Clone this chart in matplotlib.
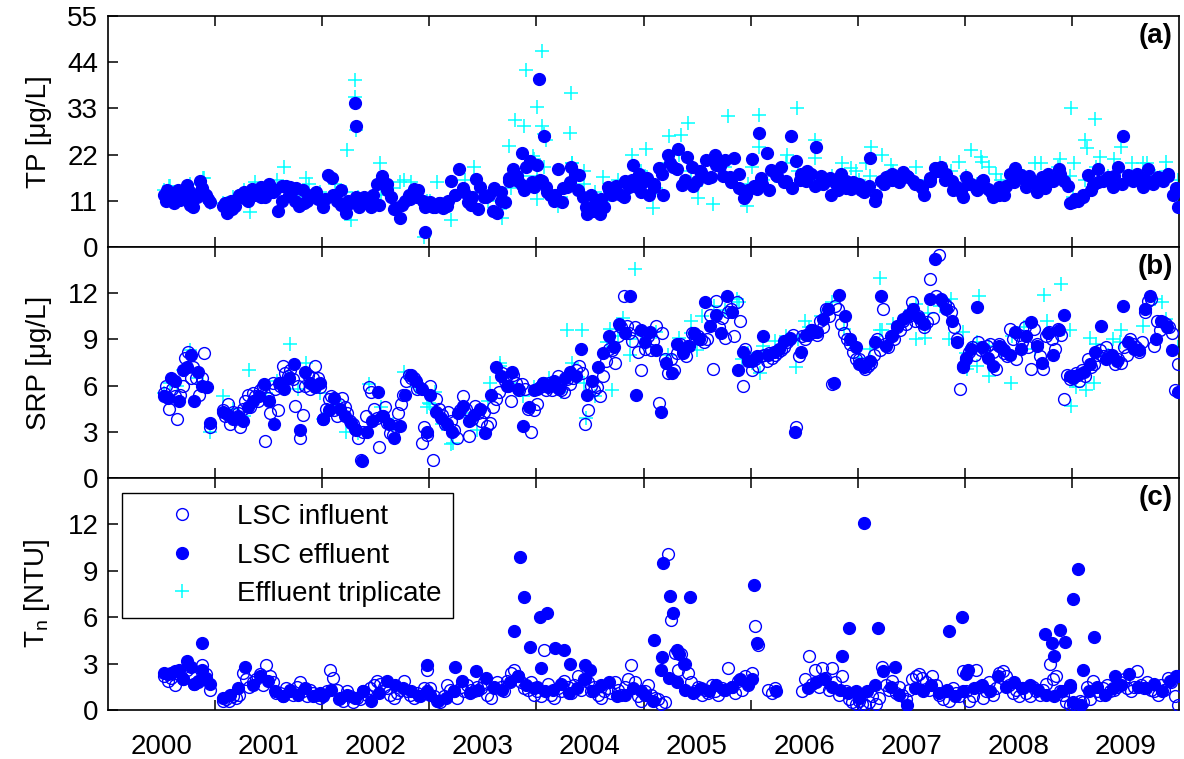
import numpy as np
import matplotlib
matplotlib.use('Agg')
import matplotlib.pyplot as plt
from matplotlib.lines import Line2D

plt.rcParams['font.family'] = ['Liberation Sans', 'DejaVu Sans']
plt.rcParams['mathtext.default'] = 'regular'

BLUE = '#0000FF'
CYAN = '#00FFFF'

YEARS = list(range(2000, 2010))
YEAR_SPANS = [(2000.52, 2000.95), (2001.07, 2001.98), (2002.01, 2002.98), (2003.01, 2003.98),
              (2004.01, 2004.98), (2005.01, 2005.98), (2006.01, 2006.98), (2007.01, 2007.98),
              (2008.01, 2008.98), (2009.01, 2009.99)]

# ---------------- (a) TP [ug/L] ----------------
TP_EFF = [
    [12.4, 13.6, 12.8, 10.4, 11.5, 11.2, 12.6, 14.8, 13.0, 9.6, 11.9, 15.6, 13.2, 12.4, 10.8],
    [9.8, 8.2, 11.0, 9.8, 12.0, 13.2, 11.0, 13.9, 12.5, 14.3, 11.9, 15.0, 13.0, 8.6, 14.6, 14.6,
     14.3, 11.0, 9.8, 13.6, 11.0, 12.5, 13.2, 11.5],
    [9.6, 17.2, 16.4, 11.0, 13.6, 8.2, 10.5, 11.0, 9.6, 11.9, 11.0, 12.5, 15.0, 17.0, 15.0, 11.9,
     9.2, 6.8, 11.0, 12.5, 13.9, 13.6, 11.0, 10.4],
    [10.6, 9.6, 10.4, 9.2, 9.8, 15.6, 12.4, 18.5, 13.2, 10.6, 11.9, 16.2, 14.3, 11.9, 12.5, 8.6,
     8.2, 11.0, 10.6, 15.8, 18.5, 15.6, 14.8, 19.0, 20.5, 14.3],
    [19.6, 15.6, 14.3, 12.5, 11.0, 18.5, 10.6, 14.3, 19.0, 17.5, 17.2, 11.9, 7.8, 12.5, 11.0, 7.8,
     9.6, 14.3, 12.5, 13.2, 12.5, 15.8, 14.3, 19.6, 14.3, 13.2],
    [15.6, 12.5, 14.3, 18.8, 12.4, 21.9, 19.0, 23.4, 14.8, 21.5, 19.0, 15.6, 17.9, 20.6, 16.6, 21.9,
     19.2, 20.8, 16.6, 21.1, 17.4, 11.6, 13.6],
    [21.0, 13.9, 15.0, 22.3, 18.3, 17.2, 19.0, 15.8, 26.4, 20.5, 17.5, 15.6, 17.5, 23.8, 16.8, 15.6,
     12.5, 15.0, 17.5, 15.6, 13.9, 14.6],
    [15.0, 13.2, 21.1, 11.0, 15.6, 16.6, 17.5, 16.6, 17.9, 16.6, 15.6, 14.8, 12.5, 15.6, 18.8, 19.0,
     17.5, 15.6, 14.3, 11.9],
    [16.6, 15.0, 13.6, 15.6, 13.9, 11.9, 14.3, 12.5, 17.5, 18.8, 17.2, 14.3, 15.6, 13.2, 16.6, 17.5,
     15.6, 18.5, 15.6, 10.4],
    [10.6, 11.0, 11.9, 17.2, 14.8, 18.5, 15.6, 16.6, 14.3, 19.0, 26.4, 17.2, 15.6, 16.6, 14.3, 18.5,
     15.8, 16.6, 15.6, 17.5, 12.5, 9.6],
]
# second set of effluent samples (same band, interleaved dates)
TP_EFF_B = [
    [11.0, 12.0, 13.5, 11.5, 10.0, 12.5, 14.0, 11.5],
    [10.5, 9.0, 12.5, 11.5, 13.0, 12.0, 14.5, 13.5, 11.0, 12.5, 14.0, 10.5, 12.0, 11.5],
    [11.5, 12.5, 10.0, 11.0, 12.0, 10.5, 9.5, 10.0, 13.5, 9.0, 10.0, 11.5, 12.0, 9.5],
    [9.5, 10.5, 11.0, 12.5, 14.0, 10.0, 9.0, 12.0, 14.0, 13.0, 16.5, 17.0, 13.5, 15.5],
    [16.0, 13.0, 12.5, 14.0, 15.5, 13.5, 9.5, 8.5, 11.5, 13.5, 14.5, 12.0, 16.0, 17.5],
    [16.5, 15.0, 17.5, 20.0, 18.5, 16.0, 14.5, 18.0, 16.5, 19.5, 17.0, 15.5, 14.0, 12.5],
    [14.5, 16.5, 13.5, 17.0, 15.5, 14.0, 16.0, 18.0, 14.5, 15.0, 16.5, 13.5, 14.0, 15.5],
    [13.5, 14.5, 12.5, 15.0, 16.0, 15.5, 17.0, 15.0, 14.0, 16.5, 18.0, 16.0, 13.5, 13.0],
    [15.0, 14.0, 16.0, 13.0, 12.5, 14.5, 15.5, 16.5, 17.0, 15.0, 14.0, 16.0, 17.5, 14.5],
    [11.5, 12.5, 13.5, 15.5, 16.0, 17.0, 15.0, 16.5, 17.5, 16.0, 15.0, 16.5, 17.0, 14.0],
]
TP_EFF_EXTRA_T = [2002.31, 2002.32, 2002.96, 2003.87, 2004.02, 2004.07, 2006.08]
TP_EFF_EXTRA_V = [34.2, 28.9, 3.6, 22.3, 40.0, 26.4, 27.1]

TP_TRIP = [
    [13.5, 14.5, 11.0, 12.0, 15.0, 13.0, 16.5, 10.5],
    [10.5, 12.0, 13.5, 15.5, 12.5, 16.0, 14.0, 12.0, 15.0, 13.0],
    [11.0, 15.0, 13.0, 12.0, 10.0, 12.5, 14.0, 16.0, 13.0, 11.0],
    [11.0, 10.0, 12.0, 16.0, 13.0, 11.0, 9.0, 14.0, 17.0, 21.0],
    [17.0, 13.0, 12.0, 20.0, 15.0, 13.0, 11.0, 16.0, 14.0, 18.0],
    [17.0, 14.0, 20.0, 22.0, 18.0, 16.0, 21.0, 19.0, 17.0, 15.0],
    [19.0, 16.0, 17.0, 20.0, 18.0, 16.0, 15.0, 17.0, 16.0, 18.0],
    [16.0, 17.0, 15.0, 18.0, 17.0, 19.0, 16.0, 20.0, 18.0, 15.0],
    [17.0, 15.0, 19.0, 16.0, 18.0, 17.0, 20.0, 15.0, 19.0, 17.0],
    [12.0, 16.0, 19.0, 17.0, 18.0, 16.0, 20.0, 17.0, 18.0, 16.0],
]
TP_TRIP_EXTRA_T = [2000.57, 2000.90, 2001.33, 2001.64, 2001.85, 2002.23, 2002.27, 2002.31, 2002.31,
                   2002.32, 2002.54, 2002.73, 2002.83, 2002.95, 2003.07, 2003.20, 2003.42, 2003.68,
                   2003.74, 2003.80, 2003.88, 2003.90, 2004.01, 2004.05, 2004.05, 2004.07, 2004.09,
                   2004.07, 2004.01, 2003.97, 2004.20, 2004.32, 2004.31, 2004.33, 2004.44, 2004.62,
                   2004.89, 2005.02, 2005.09, 2005.24, 2005.35, 2005.42, 2005.51, 2005.65, 2005.79,
                   2005.97, 2006.08, 2006.08, 2006.34, 2006.43, 2006.60, 2006.60, 2006.85, 2006.94,
                   2007.12, 2007.08, 2007.23, 2007.31, 2007.95, 2008.06, 2008.15, 2008.16, 2008.29,
                   2008.71, 2008.89, 2008.99, 2009.02, 2009.12, 2009.14, 2009.22, 2009.26, 2009.39,
                   2009.46, 2009.56, 2009.70, 2009.88, 2009.98]
TP_TRIP_EXTRA_V = [14.5, 16.5, 8.4, 19.1, 16.4, 23.1, 6.4, 39.8, 35.8,
                   27.9, 20.0, 15.5, 15.5, 2.5, 15.5, 6.4, 19.1, 7.0,
                   24.1, 30.2, 28.8, 42.1, 33.3, 46.7, 28.8, 27.0, 25.5,
                   19.0, 11.5, 21.7, 9.8, 36.7, 27.1, 20.0, 18.0, 16.7,
                   21.9, 23.3, 9.2, 26.4, 26.7, 29.6, 11.6, 10.2, 31.3,
                   9.8, 31.4, 23.8, 21.9, 33.2, 25.4, 21.1, 19.9, 18.7,
                   23.8, 20.0, 22.0, 19.5, 20.3, 23.1, 21.5, 20.2, 17.5,
                   20.0, 21.0, 33.2, 20.0, 25.4, 23.5, 30.5, 21.5, 21.0,
                   23.8, 20.0, 20.0, 20.3, 11.4]

# ---------------- (b) SRP [ug/L] ----------------
SRP_INF = [
    [5.5, 6.0, 4.5, 5.8, 5.3, 3.8, 5.4, 6.0, 7.8, 8.2, 6.5, 7.2, 6.5, 5.4, 6.5, 8.1, 5.9, 3.3],
    [4.4, 4.0, 4.8, 3.5, 4.3, 3.8, 4.2, 3.3, 4.5, 5.0, 5.4, 4.6, 5.5, 5.3, 5.0, 5.7, 6.0, 2.4, 5.2,
     4.2, 6.2, 5.8, 4.4, 6.0, 7.3, 6.8, 6.6, 7.0, 6.4, 4.7, 6.0, 2.6, 4.1, 6.0, 6.7, 5.8, 6.5, 7.3,
     6.5, 5.9],
    [3.8, 4.5, 5.1, 5.3, 4.4, 4.0, 4.8, 5.2, 4.6, 4.2, 3.7, 3.5, 3.2, 2.6, 1.2, 3.0, 4.0, 5.9, 5.6,
     4.5, 3.9, 2.0, 4.0, 4.6, 3.6, 2.9, 2.8, 3.4, 4.2, 4.8, 5.4, 6.3, 6.7, 6.5, 6.5, 5.8, 5.9, 2.3,
     3.3, 2.8],
    [6.0, 1.2, 5.1, 4.5, 4.1, 3.5, 4.3, 3.7, 3.1, 2.6, 4.4, 5.3, 4.5, 2.7, 3.8, 4.7, 4.2, 3.7, 4.3,
     3.4, 3.6, 4.6, 5.1, 5.6, 6.8, 6.3, 6.0, 5.0, 6.7, 6.2, 5.7, 6.1, 5.8, 4.5, 3.0, 4.4],
    [4.8, 5.9, 6.2, 5.7, 6.2, 5.7, 6.0, 6.6, 5.7, 5.6, 6.4, 6.1, 6.5, 7.0, 7.3, 6.8, 3.5, 4.4, 6.0,
     5.7, 5.9, 5.3, 6.6, 7.6, 8.4, 8.3, 7.5, 9.2, 9.8, 11.8, 9.9, 9.4, 8.9, 9.8, 8.2, 7.0],
    [8.4, 9.2, 8.3, 8.9, 9.9, 4.9, 9.4, 7.7, 6.8, 7.7, 7.0, 8.1, 8.7, 8.3, 7.9, 8.6, 9.4, 9.1, 9.2,
     9.0, 8.8, 9.0, 10.6, 7.1, 11.5, 9.8, 10.4, 9.1, 10.8, 11.0, 9.2, 11.4, 10.2, 6.0, 8.4, 7.7],
    [7.0, 7.7, 7.3, 7.9, 8.0, 7.6, 8.1, 7.8, 8.0, 8.2, 8.3, 8.5, 8.8, 9.0, 9.3, 3.3, 7.9, 9.2, 9.0,
     9.3, 9.6, 9.5, 9.3, 10.2, 9.8, 11.0, 10.5, 6.1, 11.2, 11.0, 10.0, 9.4, 9.0, 8.7, 8.2, 7.7],
    [7.7, 7.4, 7.1, 7.3, 7.5, 8.0, 9.0, 8.3, 11.0, 8.7, 8.5, 9.2, 9.0, 9.8, 9.6, 10.2, 10.0, 10.5,
     11.4, 10.2, 10.5, 10.1, 9.8, 10.1, 12.9, 10.4, 11.8, 14.5, 11.5, 11.3, 11.1, 10.8, 9.8, 9.0,
     5.8, 7.2],
    [7.7, 8.2, 8.5, 8.0, 8.8, 8.3, 8.4, 8.6, 8.7, 8.2, 7.1, 8.7, 8.5, 8.1, 7.9, 9.7, 9.0, 7.7, 9.3,
     8.8, 9.8, 8.5, 7.1, 9.7, 8.7, 7.9, 7.1, 9.2, 9.5, 9.0, 8.4, 9.7, 9.3, 5.1, 6.7, 6.4],
    [6.6, 6.8, 6.3, 7.0, 6.6, 7.7, 7.2, 7.4, 8.0, 8.3, 7.9, 8.5, 8.0, 7.9, 7.4, 7.7, 7.5, 8.5, 8.0,
     9.0, 8.7, 8.5, 8.2, 8.8, 10.8, 11.5, 11.6, 8.6, 10.2, 9.6, 10.1, 10.0, 9.8, 9.4, 5.7, 7.4],
]
SRP_EFF = [
    [5.3, 5.2, 6.5, 6.3, 5.0, 7.0, 7.2, 8.0, 5.0, 6.9, 6.0, 5.9, 3.6],
    [4.3, 4.1, 3.8, 4.0, 3.7, 4.6, 5.0, 5.3, 6.1, 5.0, 3.5, 6.2, 5.8, 6.5, 7.4, 3.1, 6.9, 6.2, 5.9, 6.2],
    [3.8, 4.4, 5.2, 4.5, 4.0, 3.6, 3.1, 1.1, 3.0, 3.7, 5.6, 4.0, 3.5, 2.6, 3.4, 5.4, 6.7, 6.3, 5.8, 3.0],
    [5.4, 4.3, 3.9, 3.5, 3.0, 4.2, 4.7, 3.7, 4.1, 4.5, 2.9, 5.4, 7.2, 6.6, 6.0, 6.9, 5.8, 3.4, 4.6, 5.7],
    [5.8, 6.2, 5.9, 6.3, 5.8, 6.5, 6.9, 6.6, 8.4, 5.4, 6.3, 7.2, 8.1, 9.2, 8.5, 10.0, 9.4, 11.8, 5.4, 9.6],
    [8.8, 9.5, 8.3, 4.3, 7.5, 6.8, 8.7, 8.1, 8.6, 9.4, 9.0, 11.4, 9.9, 10.6, 9.4, 11.8, 10.8, 7.0, 8.2, 7.6],
    [7.6, 7.9, 9.2, 8.0, 8.2, 8.4, 8.9, 9.1, 3.0, 8.2, 9.3, 9.6, 9.5, 10.3, 11.0, 6.2, 11.9, 10.5, 9.0, 8.5],
    [7.4, 7.2, 7.6, 8.8, 11.8, 8.6, 9.2, 9.9, 10.3, 10.6, 11.0, 10.4, 10.0, 11.6, 14.2, 11.6, 11.0, 10.2, 8.8, 7.3],
    [7.8, 8.4, 11.1, 8.5, 7.8, 7.3, 8.6, 8.3, 8.0, 9.5, 8.4, 9.2, 10.1, 8.6, 7.5, 9.4, 8.0, 9.6, 10.6, 6.6],
    [6.5, 6.7, 6.9, 7.4, 8.2, 9.9, 7.7, 8.0, 7.6, 11.2, 8.8, 8.4, 8.3, 11.0, 11.8, 9.0, 10.2, 9.8, 8.3, 5.6],
]
SRP_TRIP = [
    [5.5, 6.2, 6.0, 7.0, 8.3, 6.5, 6.0, 3.0],
    [5.3, 4.5, 4.0, 5.0, 5.5, 6.3, 6.5, 5.8, 6.2, 5.5],
    [3.8, 5.0, 3.0, 2.9, 6.1, 4.6, 3.5, 6.9, 5.9, 4.6],
    [4.8, 3.5, 2.3, 4.2, 3.1, 5.0, 7.3, 6.2, 5.3, 5.9],
    [5.8, 6.5, 5.6, 7.5, 6.2, 5.3, 8.8, 9.2, 8.0, 9.3],
    [8.6, 9.5, 8.0, 9.1, 9.4, 10.5, 11.2, 10.9, 11.6, 8.1],
    [7.5, 8.6, 8.9, 9.2, 9.0, 9.8, 10.5, 11.4, 9.7, 8.5],
    [7.8, 8.4, 9.6, 10.0, 10.5, 11.3, 10.7, 11.2, 11.6, 9.5],
    [8.1, 8.8, 8.6, 8.3, 9.2, 9.8, 8.4, 10.2, 9.3, 9.6],
    [6.3, 7.0, 8.7, 8.0, 8.8, 8.6, 9.9, 11.6, 10.3, 8.5],
]
SRP_TRIP_EXTRA_T = [2001.32, 2001.70, 2001.85, 2003.00, 2003.05, 2003.20, 2003.57, 2003.66, 2004.29,
                    2004.43, 2004.46, 2004.69, 2004.71, 2004.81, 2004.87, 2004.92, 2005.44, 2005.50,
                    2005.89, 2005.92, 2006.09, 2006.42, 2006.51, 2007.21, 2007.21, 2007.54, 2007.63,
                    2007.85, 2008.02, 2008.11, 2008.13, 2008.23, 2008.43, 2008.74, 2008.90, 2008.99,
                    2009.04, 2009.13, 2009.17, 2009.21, 2009.38, 2009.46, 2009.84]
SRP_TRIP_EXTRA_V = [7.0, 8.7, 7.5, 4.9, 5.6, 2.2, 6.2, 7.5, 9.6,
                    9.6, 3.9, 9.7, 5.7, 10.4, 9.0, 13.6, 10.2, 8.3,
                    11.4, 7.7, 6.8, 7.2, 10.2, 13.0, 9.6, 9.0, 9.1,
                    9.0, 7.1, 7.3, 11.8, 6.6, 6.2, 11.9, 12.6, 4.7,
                    5.9, 5.7, 9.1, 6.2, 9.0, 9.6, 11.4]

# ---------------- (c) Tn [NTU] ----------------
TN_INF = [
    [2.2, 1.9, 2.1, 1.6, 2.3, 2.0, 2.6, 2.2, 1.7, 1.8, 2.9, 2.3, 1.3],
    [0.6, 0.7, 0.6, 0.9, 0.8, 1.0, 2.4, 2.0, 1.5, 1.8, 2.0, 2.3, 1.6, 2.9, 2.2, 1.8, 1.1, 1.1, 0.9,
     1.4, 1.2, 1.0, 1.5, 1.8, 1.2, 0.9, 1.3, 1.1, 1.0, 0.8],
    [0.9, 1.2, 2.6, 2.1, 1.3, 0.8, 0.6, 1.2, 0.9, 0.5, 0.8, 0.7, 1.2, 1.0, 1.4, 1.6, 1.9, 1.7, 1.5,
     1.4, 1.0, 0.8, 1.1, 1.3, 1.9, 1.2, 1.0, 0.8, 1.1, 0.9, 1.4, 2.6],
    [1.4, 0.9, 0.6, 0.5, 0.9, 1.6, 1.3, 1.2, 0.8, 1.5, 1.2, 1.6, 1.3, 1.2, 1.5, 1.4, 1.8, 1.0, 0.8,
     1.4, 1.8, 1.5, 1.2, 1.9, 2.4, 2.6, 2.2, 1.8, 1.4, 1.3, 1.8, 1.0],
    [1.2, 0.9, 3.9, 1.7, 1.0, 0.8, 1.4, 1.2, 1.9, 1.5, 1.1, 1.6, 2.2, 1.3, 2.0, 1.8, 1.2, 1.5, 1.0,
     0.8, 1.2, 1.4, 1.1, 1.8, 1.3, 1.0, 1.5, 2.0, 2.9, 1.8, 0.9, 0.6],
    [1.2, 1.6, 1.0, 0.8, 0.7, 0.4, 0.5, 10.1, 5.8, 3.7, 2.6, 3.6, 3.0, 2.4, 1.8, 1.2, 1.5, 1.0, 1.3,
     1.1, 1.6, 1.2, 1.0, 1.4, 1.3, 2.7, 1.5, 1.1, 1.9, 1.3, 2.2, 1.6],
    [2.4, 5.4, 4.2, None, None, 1.3, 1.1, 1.4, None, None, None, None, None, None, None, 1.2, 2.0,
     3.5, 1.7, 2.6, 1.5, 2.7, 2.1, 1.3, 2.7, 1.8, 1.0, 2.2, 1.2, 0.7, 0.5, 0.4],
    [0.6, 0.4, 0.3, 0.5, 0.9, 0.4, 0.8, 2.8, 1.6, 1.3, 1.9, 1.1, 1.5, 1.0, 0.7, 1.3, 2.0, 2.2, 2.3,
     2.1, 1.8, 1.3, 2.2, 1.6, 1.0, 0.7, 1.2, 0.6, 1.4, 1.1, 0.9, 2.5],
    [1.2, 0.6, 0.9, 2.6, 1.5, 0.8, 1.2, 1.8, 1.0, 1.4, 2.4, 2.5, 2.2, 1.6, 1.1, 1.3, 0.9, 1.4, 1.1,
     0.9, 1.5, 1.2, 1.0, 1.3, 1.7, 3.0, 2.0, 2.2, 1.2, 1.0, 0.5, 0.3],
    [0.4, 0.3, 0.6, 0.5, 1.5, 0.7, 1.9, 1.2, 1.0, 1.4, 1.6, 1.2, 1.3, 1.5, 1.8, 2.0, 1.4, 1.2, 1.5,
     2.5, 1.6, 1.4, 1.8, 1.3, 1.2, 1.0, 1.6, 1.3, 2.1, 1.8, 0.9, 0.3],
]
TN_EFF = [
    [2.4, 2.3, 2.4, 2.5, 2.6, 2.0, 3.2, 2.8, 1.7, 1.9, 2.6, 2.1, 1.7],
    [0.8, 1.0, 1.4, 2.8, 1.6, 2.2, 1.9, 1.2, 0.9, 1.3, 1.0, 1.4, 0.9, 1.1],
    [1.0, 1.3, 0.7, 1.0, 0.8, 1.2, 0.6, 1.1, 1.9, 1.6, 1.4, 1.2, 0.9, 1.2],
    [1.0, 0.6, 0.8, 1.2, 1.9, 1.1, 1.3, 2.1, 1.5, 1.3, 1.8, 2.2, 1.6, 1.4],
    [1.5, 1.2, 1.3, 1.7, 1.1, 1.4, 2.0, 1.2, 1.6, 1.8, 0.9, 1.0, 1.4, 1.2],
    [1.0, 0.6, 2.6, 2.1, 1.8, 1.3, 1.1, 1.4, 1.2, 1.6, 1.3, 1.5, 2.0, 1.7],
    [2.0, None, None, 1.2, None, None, None, 1.4, 1.8, 2.0, 1.5, 1.3, 1.1, 1.2],
    [0.8, 1.2, 1.6, 2.5, 1.5, 1.0, 0.3, 1.4, 1.2, 1.6, 1.1, 1.3, 0.9, 1.2],
    [2.3, 1.4, 1.6, 1.2, 2.2, 1.5, 1.8, 1.4, 1.6, 1.3, 1.0, 0.9, 1.2, 1.6],
    [0.5, 0.3, 1.2, 1.5, 1.0, 1.4, 1.6, 2.3, 1.5, 1.4, 1.7, 1.2, 1.9, 2.2],
]
TN_EFF_EXTRA_T = [2000.88, 2002.98, 2003.24, 2003.44, 2003.79, 2003.85, 2003.88, 2003.94, 2004.03,
                  2004.10, 2004.17, 2004.26, 2004.31, 2004.04, 2004.45, 2004.50, 2005.10, 2005.17,
                  2005.18, 2005.25, 2005.28, 2005.43, 2005.31, 2005.33, 2005.38, 2006.03, 2006.06,
                  2006.85, 2006.92, 2007.06, 2007.19, 2007.35, 2007.85, 2007.97, 2008.03, 2008.75,
                  2008.81, 2008.83, 2008.89, 2008.94, 2008.98, 2009.01, 2009.06, 2009.10, 2009.21,
                  2009.40, 2009.97]
TN_EFF_EXTRA_V = [4.3, 2.9, 2.8, 2.5, 5.1, 9.9, 7.3, 4.1, 6.0,
                  6.3, 4.0, 3.9, 3.0, 2.7, 2.9, 2.6, 4.5, 3.4,
                  9.5, 7.4, 6.3, 7.3, 3.9, 3.6, 3.0, 8.1, 4.3,
                  3.5, 5.3, 12.1, 5.3, 2.8, 5.1, 6.0, 2.6, 4.9,
                  4.3, 3.5, 5.2, 4.4, 1.5, 7.2, 9.1, 2.6, 4.7,
                  2.2, 2.2]


def expand(per_year, shift=0.0):
    xs, ys = [], []
    for (s, e), vals in zip(YEAR_SPANS, per_year):
        v = np.array(vals, dtype=float)
        xs.append(np.linspace(s + shift, e - shift, len(v)))
        ys.append(v)
    return np.concatenate(xs), np.concatenate(ys)


W, H = 1184, 759
fig = plt.figure(figsize=(W / 100, H / 100), dpi=100)
left = 108 / W
width = (1179 - 108) / W
tops = [16, 247, 478]
bots = [247, 478, 710]
axes = [fig.add_axes([left, (H - b) / H, width, (b - t) / H]) for t, b in zip(tops, bots)]
axa, axb, axc = axes

ms = 8.5
kw_trip = dict(ls='none', marker='+', color=CYAN, ms=10, mew=1.1, zorder=2)
kw_eff = dict(ls='none', marker='o', color=BLUE, mfc=BLUE, mec=BLUE, ms=ms, mew=1.0, zorder=3)
kw_inf = dict(ls='none', marker='o', color=BLUE, mfc='none', mec=BLUE, ms=ms, mew=1.0, zorder=4)

# (a)
x, y = expand(TP_TRIP)
axa.plot(x, y, **kw_trip)
axa.plot(TP_TRIP_EXTRA_T, TP_TRIP_EXTRA_V, **kw_trip)
x, y = expand(TP_EFF)
axa.plot(x, y, **kw_eff)
x, y = expand(TP_EFF_B, shift=0.02)
axa.plot(x, y, **kw_eff)
axa.plot(TP_EFF_EXTRA_T, TP_EFF_EXTRA_V, **kw_eff)

# (b)
x, y = expand(SRP_TRIP)
axb.plot(x, y, **kw_trip)
axb.plot(SRP_TRIP_EXTRA_T, SRP_TRIP_EXTRA_V, **kw_trip)
x, y = expand(SRP_EFF)
axb.plot(x, y, **kw_eff)
x, y = expand(SRP_INF)
axb.plot(x, y, **kw_inf)

# (c)
x, y = expand(TN_EFF)
axc.plot(x, y, **kw_eff)
axc.plot(TN_EFF_EXTRA_T, TN_EFF_EXTRA_V, **kw_eff)
x, y = expand(TN_INF)
axc.plot(x, y, **kw_inf)

FS = 20
axa.set_ylim(0, 55)
axa.set_yticks([0, 11, 22, 33, 44, 55])
axb.set_ylim(0, 15)
axb.set_yticks([0, 3, 6, 9, 12])
axc.set_ylim(0, 15)
axc.set_yticks([0, 3, 6, 9, 12])

axa.set_ylabel('TP [\u03bcg/L]', fontsize=FS)
axb.set_ylabel('SRP [\u03bcg/L]', fontsize=FS)
axc.set_ylabel('T$_n$ [NTU]', fontsize=FS)

for ax, lab in zip(axes, ['(a)', '(b)', '(c)']):
    ax.set_xlim(2000, 2010)
    ax.set_xticks(range(2001, 2010))
    ax.set_xticks(np.arange(2000.5, 2010, 1), minor=True)
    ax.set_xticklabels([])
    ax.set_xticklabels([str(yr) for yr in YEARS], minor=True)
    ax.tick_params(axis='x', which='major', direction='in', length=7.5, width=1.1,
                   top=True, bottom=True, labelbottom=False)
    ax.tick_params(axis='x', which='minor', length=0, top=False, bottom=True,
                   labelbottom=(ax is axc), pad=17, labelsize=FS)
    ax.tick_params(axis='y', which='both', direction='in', length=7.5, width=1.1,
                   left=True, right=False, labelsize=FS, pad=7)
    for sp in ax.spines.values():
        sp.set_linewidth(1.2)
        sp.set_color('black')
    ax.yaxis.set_label_coords(-0.052, 0.5)
    ax.text(0.994, 0.97, lab, transform=ax.transAxes, ha='right', va='top',
            fontsize=FS, fontweight='bold', zorder=10)

handles = [
    Line2D([], [], **kw_inf),
    Line2D([], [], **kw_eff),
    Line2D([], [], **kw_trip),
]
leg = axc.legend(handles, ['LSC influent', 'LSC effluent', 'Effluent triplicate'],
                 loc='upper left', bbox_to_anchor=(0.013, 0.935), borderaxespad=0,
                 fontsize=FS, frameon=True, fancybox=False, framealpha=1,
                 edgecolor='black', handlelength=3.5, handletextpad=0.25,
                 labelspacing=0.45, borderpad=0.4, numpoints=1)
leg.get_frame().set_linewidth(1.0)
leg.set_zorder(20)

fig.savefig('out.png', dpi=100)
